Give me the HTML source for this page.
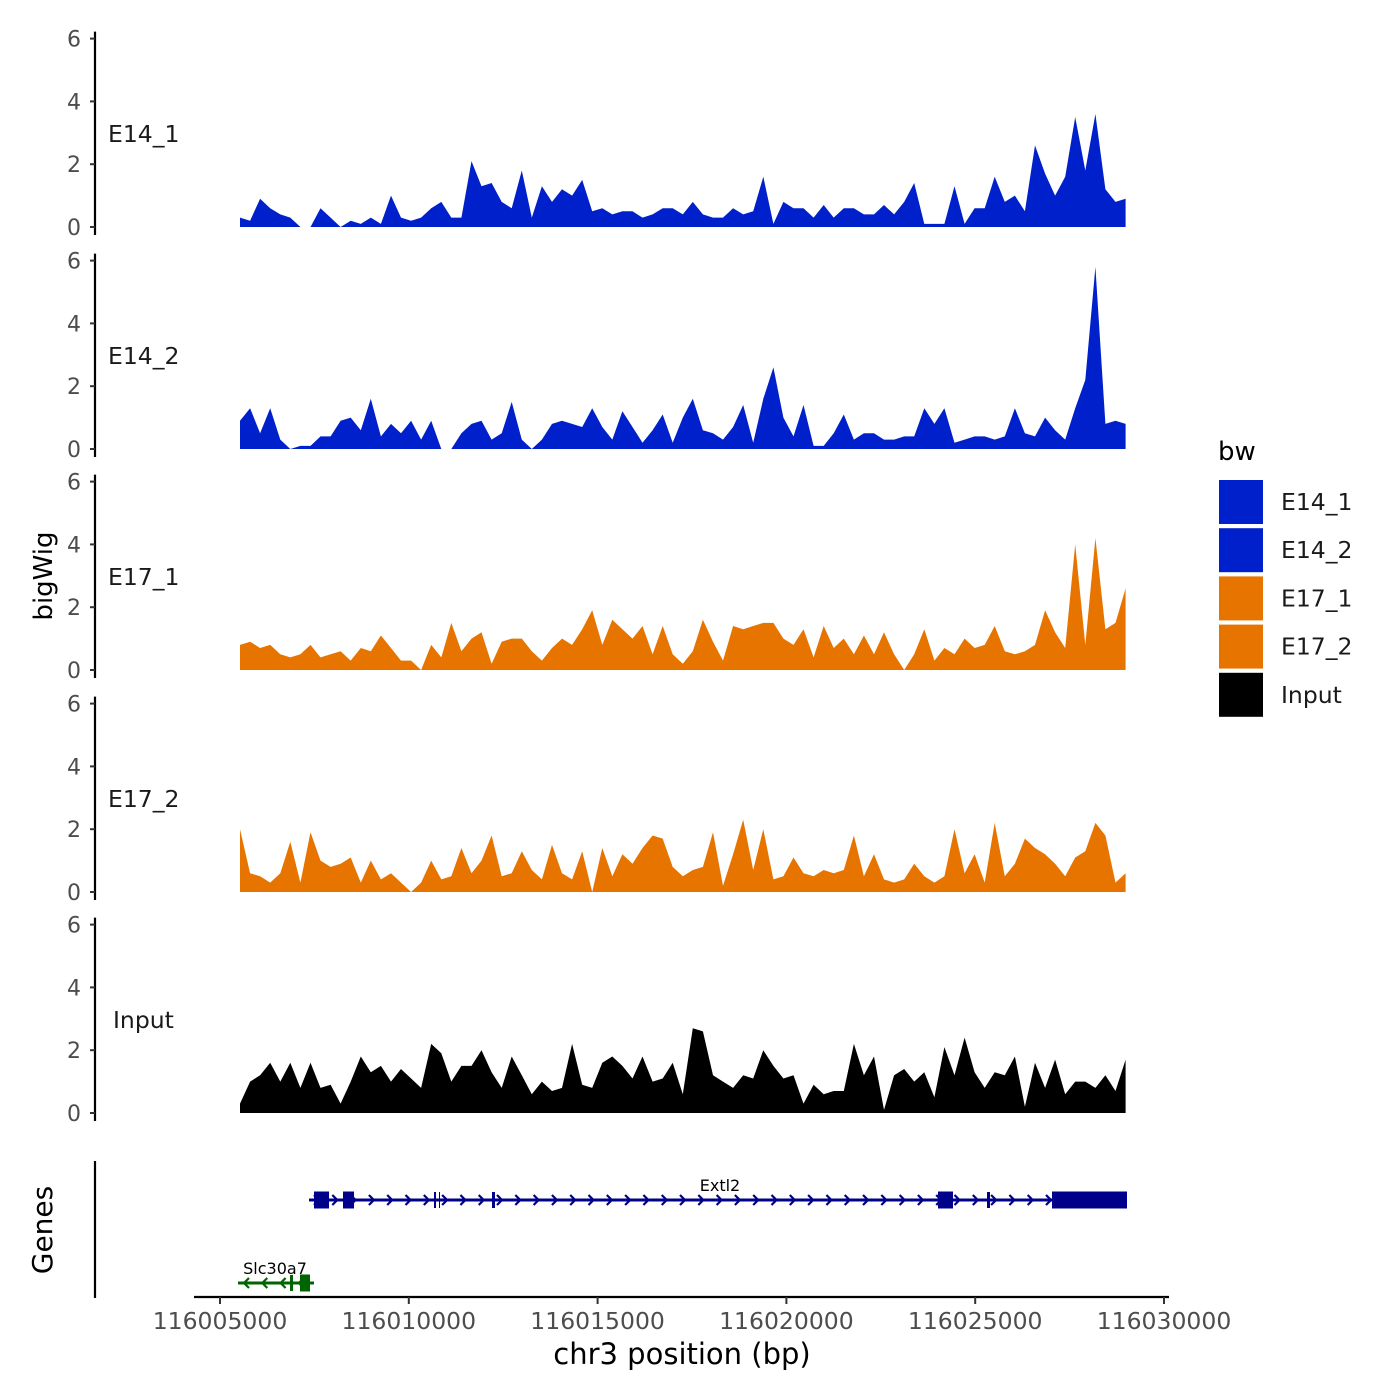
<!DOCTYPE html>
<html><head><meta charset="utf-8"><style>
body{margin:0;background:#fff}
svg{display:block;font-family:"DejaVu Sans","Liberation Sans",sans-serif}
</style></head><body>
<svg id="chart" width="1400" height="1400" viewBox="0 0 1400 1400" xmlns="http://www.w3.org/2000/svg">
<rect width="1400" height="1400" fill="#fff"/>
<text x="52" y="576" font-size="26" text-anchor="middle" transform="rotate(-90 52 576)" fill="#000">bigWig</text>
<text x="52" y="1230" font-size="28" text-anchor="middle" transform="rotate(-90 52 1230)" fill="#000">Genes</text>
<text x="682" y="1364" font-size="29" text-anchor="middle" fill="#000">chr3 position (bp)</text>
<line x1="95" y1="1161" x2="95" y2="1298" stroke="#000" stroke-width="2.2"/>
<line x1="194" y1="1297" x2="1169" y2="1297" stroke="#000" stroke-width="2.2"/>
<g id="tracks"></g>
<g id="xaxis"></g>
<g id="genes"></g>
<g id="legend">
<text x="1218" y="460" font-size="26" fill="#000">bw</text>
</g>
</svg>
<script>
const trackNames = ["E14_1","E14_2","E17_1","E17_2","Input"];
const trackColors = ["#0020CC","#0020CC","#E87400","#E87400","#000000"];
const startBp = 116005530;
const stepBp = 266.5;
const yTicks = [0,2,4,6];
const xTicks = [116005000,116010000,116015000,116020000,116025000,116030000];
const e14_1 = [0.3,0.2,0.9,0.6,0.4,0.3,0,0,0.6,0.3,0,0.2,0.1,0.3,0.1,1.0,0.3,0.2,0.3,0.6,0.8,0.3,0.3,2.1,1.3,1.4,0.8,0.6,1.8,0.3,1.3,0.8,1.2,1.0,1.5,0.5,0.6,0.4,0.5,0.5,0.3,0.4,0.6,0.6,0.4,0.8,0.4,0.3,0.3,0.6,0.4,0.5,1.6,0.1,0.8,0.6,0.6,0.3,0.7,0.3,0.6,0.6,0.4,0.4,0.7,0.4,0.8,1.4,0.1,0.1,0.1,1.3,0.1,0.6,0.6,1.6,0.8,1.0,0.5,2.6,1.7,1.0,1.6,3.5,1.8,3.6,1.2,0.8,0.9];
const e14_2 = [0.9,1.3,0.5,1.3,0.3,0,0.1,0.1,0.4,0.4,0.9,1.0,0.6,1.6,0.4,0.8,0.5,0.9,0.3,0.9,0,0,0.5,0.8,0.9,0.3,0.5,1.5,0.3,0,0.3,0.8,0.9,0.8,0.7,1.3,0.7,0.3,1.2,0.7,0.2,0.6,1.1,0.2,1.0,1.6,0.6,0.5,0.3,0.7,1.4,0.2,1.6,2.6,1.0,0.4,1.4,0.1,0.1,0.5,1.1,0.3,0.5,0.5,0.3,0.3,0.4,0.4,1.3,0.8,1.3,0.2,0.3,0.4,0.4,0.3,0.4,1.3,0.5,0.4,1.0,0.6,0.3,1.3,2.2,5.8,0.8,0.9,0.8];
const e17_1 = [0.8,0.9,0.7,0.8,0.5,0.4,0.5,0.8,0.4,0.5,0.6,0.3,0.7,0.6,1.1,0.7,0.3,0.3,0,0.8,0.4,1.5,0.6,1.0,1.2,0.2,0.9,1.0,1.0,0.6,0.3,0.7,1.0,0.8,1.3,1.9,0.8,1.6,1.3,1.0,1.4,0.5,1.4,0.5,0.2,0.6,1.6,0.9,0.3,1.4,1.3,1.4,1.5,1.5,1.0,0.8,1.3,0.4,1.4,0.7,1.0,0.5,1.1,0.5,1.2,0.5,0,0.5,1.3,0.3,0.7,0.5,1.0,0.7,0.8,1.4,0.6,0.5,0.6,0.8,1.9,1.2,0.7,4.0,0.8,4.2,1.3,1.5,2.6];
const e17_2 = [2.0,0.6,0.5,0.3,0.6,1.6,0.3,1.9,1.0,0.8,0.9,1.1,0.3,1.0,0.4,0.6,0.3,0,0.3,1.0,0.4,0.5,1.4,0.6,1.0,1.8,0.5,0.6,1.3,0.7,0.4,1.5,0.6,0.4,1.3,0,1.4,0.5,1.2,0.9,1.4,1.8,1.7,0.8,0.5,0.7,0.8,1.9,0.2,1.2,2.3,0.7,2.0,0.4,0.5,1.1,0.6,0.5,0.7,0.6,0.7,1.8,0.5,1.2,0.4,0.3,0.4,0.9,0.5,0.3,0.5,2.0,0.6,1.2,0.3,2.2,0.5,0.9,1.7,1.4,1.2,0.9,0.5,1.1,1.3,2.2,1.8,0.3,0.6];
const input = [0.3,1.0,1.2,1.6,1.0,1.6,0.8,1.6,0.8,0.9,0.3,1.0,1.8,1.3,1.5,1.0,1.4,1.1,0.8,2.2,1.9,1.0,1.5,1.5,2.0,1.3,0.8,1.8,1.2,0.6,1.0,0.7,0.8,2.2,0.9,0.8,1.6,1.8,1.5,1.1,1.8,1.0,1.1,1.6,0.6,2.7,2.6,1.2,1.0,0.8,1.2,1.1,2.0,1.5,1.1,1.2,0.3,0.9,0.6,0.7,0.7,2.2,1.2,1.8,0.1,1.2,1.4,1.0,1.3,0.5,2.1,1.2,2.4,1.3,0.8,1.3,1.2,1.8,0.2,1.6,0.8,1.7,0.6,1.0,1.0,0.8,1.2,0.7,1.7];
const trackValues = [e14_1,e14_2,e17_1,e17_2,input];

const NS="http://www.w3.org/2000/svg";
function mk(tag, attrs, parent){const e=document.createElementNS(NS,tag);for(const k in attrs)e.setAttribute(k,attrs[k]);parent.appendChild(e);return e;}
const xScale = bp => 220 + (bp-116005000)/5000*188.8;
const panelZero = [227,449,670,892,1113];
const yScale = (v,p) => panelZero[p] - v*31.4;

const tracks=document.getElementById('tracks');
trackNames.forEach((name,p)=>{
  const g=mk('g',{},tracks);
  
  
  const ax=mk('line',{x1:95,y1:yScale(6,p)-7,x2:95,y2:yScale(0,p)+8,stroke:'#000','stroke-width':2.2},g);
  
  
  yTicks.forEach(t=>{
    const y=yScale(t,p);
    const tk=mk('line',{x1:90,y1:y,x2:95,y2:y,stroke:'#333','stroke-width':2},g);
    
    
    const tl=mk('text',{x:81,y:y+8,'font-size':22,'text-anchor':'end',fill:'#4d4d4d'},g);
    tl.textContent=t;
    
    
  });
  const lab=mk('text',{x:name==='Input'?113:108,y:yScale(3,p)+9,'font-size':23.5,fill:'#1a1a1a'},g);
  lab.textContent=name;
  
  
  const vals=trackValues[p];
  let d='M'+xScale(startBp).toFixed(1)+','+yScale(0,p);
  vals.forEach((v,i)=>{d+=' L'+xScale(startBp+stepBp*i).toFixed(1)+','+yScale(v,p).toFixed(1);});
  d+=' L'+xScale(startBp+stepBp*(vals.length-1)).toFixed(1)+','+yScale(0,p)+' Z';
  const area=mk('path',{d:d,fill:trackColors[p]},g);
  
  
});

const xa=document.getElementById('xaxis');
xTicks.forEach(t=>{
  const x=xScale(t);
  const tk=mk('line',{x1:x,y1:1297,x2:x,y2:1304,stroke:'#333','stroke-width':2},xa);
  
  
  const tl=mk('text',{x:x,y:1329,'font-size':23.5,'text-anchor':'middle',fill:'#4d4d4d'},xa);
  tl.textContent=t;
  
  
});

const gn=document.getElementById('genes');
function gene(name,x1,x2,y,col,dir,exons,labx){
  const g=mk('g',{},gn);
  
  
  mk('line',{x1:x1,y1:y,x2:x2,y2:y,stroke:col,'stroke-width':3},g);
  for(let x=x1+8;x<x2-4;x+=18.3){
    const s=dir>0?`M${x-3},${y-5} L${x+2},${y} L${x-3},${y+5}`:`M${x+3},${y-5} L${x-2},${y} L${x+3},${y+5}`;
    mk('path',{d:s,stroke:col,'stroke-width':2.2,fill:'none'},g);
  }
  exons.forEach(e=>mk('rect',{x:e[0],y:y-e[2]/2,width:e[1],height:e[2],fill:col},g));
  const t=mk('text',{x:labx,y:y-9,'font-size':16,'text-anchor':'middle',fill:'#000'},g);
  t.textContent=name;
}
gene('Extl2',309,1127,1200,'#00008B',1,[[314,15,17],[343,11,17],[434,2,16],[439,1,16],[492,3,16],[938,15,17],[987,3,16],[1052,75,17]],720);
gene('Slc30a7',238,314,1283,'#006400',-1,[[290,3,16],[300,10,17]],275);

const legendLabels=["E14_1","E14_2","E17_1","E17_2","Input"];
const legendColors=["#0020CC","#0020CC","#E87400","#E87400","#000000"];
const lg=document.getElementById('legend');
legendLabels.forEach((l,i)=>{
  const g=mk('g',{},lg);
  
  
  mk('rect',{x:1219,y:480+i*48.2,width:44,height:44,fill:legendColors[i]},g);
  const t=mk('text',{x:1281,y:510+i*48.2,'font-size':23.5,fill:'#1a1a1a'},g);
  t.textContent=l;
});
</script>
</body></html>
